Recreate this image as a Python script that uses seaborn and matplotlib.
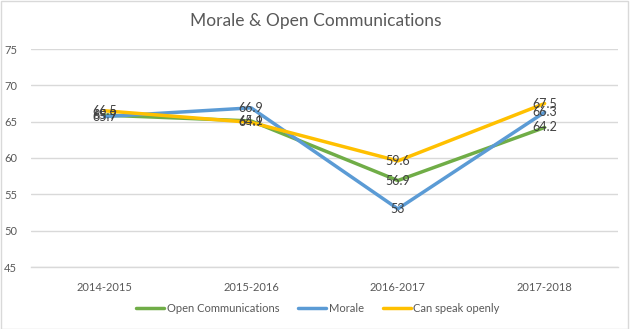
import matplotlib
matplotlib.use("Agg")
import matplotlib.pyplot as plt
import seaborn as sns
import pandas as pd
from matplotlib.patches import Rectangle
from matplotlib.lines import Line2D

years = ["2014-2015", "2015-2016", "2016-2017", "2017-2018"]
open_comm = [65.9, 65.1, 56.9, 64.2]
morale = [65.7, 66.9, 53.0, 66.3]
speak_openly = [66.5, 64.9, 59.6, 67.5]
series_names = ["Open Communications", "Morale", "Can speak openly"]
colors = ["#70AD47", "#5B9BD5", "#FFC000"]
y_ticks = [45, 50, 55, 60, 65, 70, 75]

rows = []
for name, vals in zip(series_names, [open_comm, morale, speak_openly]):
    for yr, v in zip(years, vals):
        rows.append({"Year": yr, "Score": v, "Series": name})
df = pd.DataFrame(rows)

sns.set_theme(style="white")
plt.rcParams["font.family"] = ["Lato", "DejaVu Sans"]

W, H = 634, 329
fig = plt.figure(figsize=(W / 100, H / 100), dpi=100)
ax = fig.add_axes([31 / W, 1 - 267 / H, (618 - 31) / W, (267 - 49) / H])

sns.lineplot(data=df, x="Year", y="Score", hue="Series", hue_order=series_names,
             palette=colors, sort=False, linewidth=2.5, ax=ax, legend=False,
             solid_capstyle="round", solid_joinstyle="round")

ax.set_xlim(-0.5, len(years) - 0.5)
ax.set_ylim(45, 75)
ax.set_yticks(y_ticks)
ax.set_xticks(range(len(years)))
ax.set_xticklabels(years)
ax.set_xlabel("")
ax.set_ylabel("")
ax.grid(axis="y", color="#D9D9D9", linewidth=1)
ax.set_axisbelow(True)
for s in ["top", "right", "left"]:
    ax.spines[s].set_visible(False)
ax.spines["bottom"].set_color("#D9D9D9")
ax.spines["bottom"].set_linewidth(1)
ax.tick_params(axis="both", length=0, labelsize=8, labelcolor="#595959")
ax.tick_params(axis="x", pad=11)
ax.tick_params(axis="y", pad=10)

# value labels centred on each point
for name, vals in zip(series_names, [open_comm, morale, speak_openly]):
    for i, v in enumerate(vals):
        ax.text(i, v, f"{v:g}", ha="center", va="center", fontsize=9,
                color="#404040", zorder=5)

fig.text(316 / W, 1 - 21 / H, "Morale & Open Communications", ha="center",
         va="center", fontsize=12.5, color="#595959")

handles = [Line2D([0], [0], color=c, linewidth=2.5) for c in colors]
fig.legend(handles, series_names, loc="center", bbox_to_anchor=(318 / W, 1 - 308 / H),
           ncol=3, frameon=False, fontsize=8, handlelength=2.5, handletextpad=0.25,
           columnspacing=1.7, labelcolor="#595959")

fig.patches.append(Rectangle((0.5 / W, 0.5 / H), 627.5 / W, 327.5 / H,
                             transform=fig.transFigure, fill=False,
                             edgecolor="#D9D9D9", linewidth=1))

fig.savefig("out.png", dpi=100, facecolor="white")
